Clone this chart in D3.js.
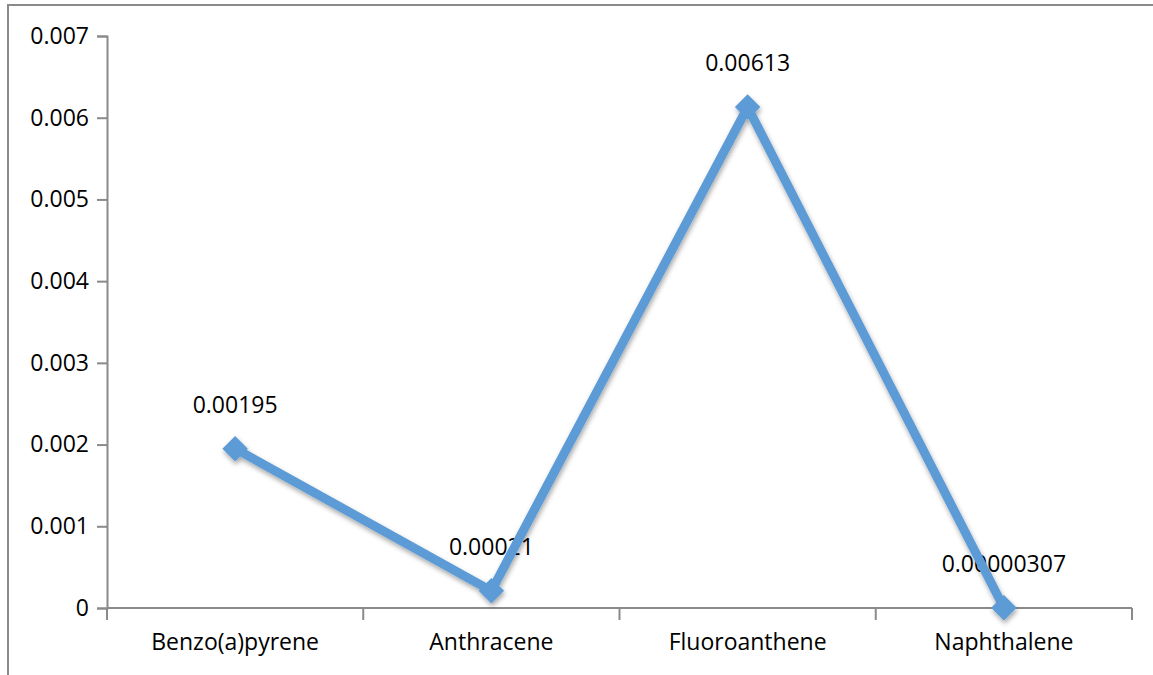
<!DOCTYPE html>
<html>
<head>
<meta charset="utf-8">
<script src="https://cdn.jsdelivr.net/npm/d3@7"></script>
<style>
  html, body { margin: 0; padding: 0; background: #fff; }
  svg { display: block; }
  text { font-family: "Open Sans", "Liberation Sans", sans-serif; fill: #000; }
</style>
</head>
<body>
<svg id="chart" width="1153" height="675"></svg>
<script>
// PAH concentrations by compound
const categories = ["Benzo(a)pyrene", "Anthracene", "Fluoroanthene", "Naphthalene"];
const values = [0.00195, 0.00021, 0.00613, 0.00000307];
const valueLabels = ["0.00195", "0.00021", "0.00613", "0.00000307"];
const yTicks = [0, 0.001, 0.002, 0.003, 0.004, 0.005, 0.006, 0.007];

const svg = d3.select("#chart");
const axisColor = "#8a8a8a";
const lineColor = "#5b9bd5";
const fontSize = "23px";

// outer frame
svg.append("rect")
  .attr("x", 8).attr("y", 5)
  .attr("width", 1170).attr("height", 700)
  .attr("fill", "none").attr("stroke", axisColor).attr("stroke-width", 2);

const plotLeft = 107, plotRight = 1132, plotTop = 36, plotBottom = 608;

const x = d3.scaleBand().domain(categories).range([plotLeft, plotRight]).padding(0);
const y = d3.scaleLinear().domain([0, 0.007]).range([plotBottom, plotTop]);

// drop shadow for the series
const defs = svg.append("defs");
const f = defs.append("filter").attr("id", "shadow")
  .attr("x", "-20%").attr("y", "-20%").attr("width", "140%").attr("height", "140%");
f.append("feDropShadow").attr("dx", 1).attr("dy", 3).attr("stdDeviation", 2.5)
  .attr("flood-color", "#000").attr("flood-opacity", 0.35);

// y axis
const yAxis = svg.append("g").attr("transform", `translate(${plotLeft},0)`)
  .call(d3.axisLeft(y).tickValues(yTicks).tickSize(10).tickPadding(8)
    .tickFormat(d => d === 0 ? "0" : d3.format(".3f")(d)));
yAxis.select(".domain").attr("stroke", axisColor).attr("stroke-width", 2);
yAxis.selectAll(".tick line").attr("stroke", axisColor).attr("stroke-width", 2);
yAxis.selectAll(".tick text").style("font-size", fontSize).attr("fill", "#000");

// x axis line with category boundary ticks
const xg = svg.append("g");
xg.append("line")
  .attr("x1", plotLeft).attr("x2", plotRight).attr("y1", plotBottom).attr("y2", plotBottom)
  .attr("stroke", axisColor).attr("stroke-width", 2);
const bounds = categories.map(c => x(c)).concat([x(categories[categories.length - 1]) + x.bandwidth()]);
xg.selectAll("line.b").data(bounds).join("line").attr("class", "b")
  .attr("x1", d => d).attr("x2", d => d)
  .attr("y1", plotBottom).attr("y2", plotBottom + 12)
  .attr("stroke", axisColor).attr("stroke-width", 2);
xg.selectAll("text").data(categories).join("text")
  .attr("x", d => x(d) + x.bandwidth() / 2)
  .attr("y", plotBottom + 42)
  .attr("text-anchor", "middle")
  .style("font-size", fontSize)
  .text(d => d);

const cx = (d, i) => x(categories[i]) + x.bandwidth() / 2;

// value labels
svg.append("g").selectAll("text").data(values).join("text")
  .attr("x", (d, i) => cx(d, i))
  .attr("y", d => y(d) - 36)
  .attr("text-anchor", "middle")
  .style("font-size", fontSize)
  .text((d, i) => valueLabels[i]);

// series line and markers
const series = svg.append("g").attr("filter", "url(#shadow)");
const line = d3.line().x((d, i) => cx(d, i)).y(d => y(d));
series.append("path").datum(values)
  .attr("d", line)
  .attr("fill", "none")
  .attr("stroke", lineColor)
  .attr("stroke-width", 9)
  .attr("stroke-linejoin", "round");

const sym = d3.symbol().type(d3.symbolSquare).size(18 * 18);
series.selectAll("path.m").data(values).join("path").attr("class", "m")
  .attr("d", sym)
  .attr("transform", (d, i) => `translate(${cx(d, i)},${y(d)}) rotate(45)`)
  .attr("fill", lineColor);
</script>
</body>
</html>
